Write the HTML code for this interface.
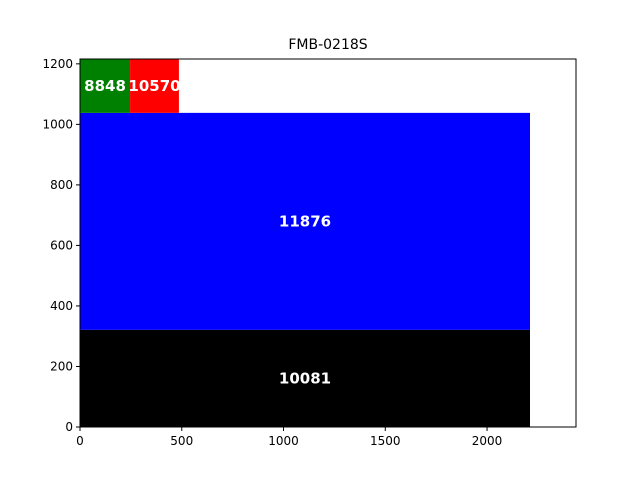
<!DOCTYPE html>
<html><head><meta charset="utf-8"><style>
body{margin:0;background:#fff;font-family:"Liberation Sans","DejaVu Sans",sans-serif;}
</style></head><body>
<svg id="chart" width="640" height="480" xmlns="http://www.w3.org/2000/svg">
<rect width="640" height="480" fill="#fff"/>
<text x="328" y="49" text-anchor="middle" font-size="14" font-family="DejaVu Sans, Liberation Sans, sans-serif">FMB-0218S</text>
<g id="marks"></g>
<g id="axes"></g>
</svg>
<script>
const labels = ["10081","11876","8848","10570"];
const x0s = [0,0,0,246];
const x1s = [2211,2211,246,486];
const y0s = [0,321,1038,1038];
const y1s = [321,1038,1216,1216];
const colors = ["#000000","#0000ff","#008000","#ff0000"];
const xTicks = [0,500,1000,1500,2000];
const yTicks = [0,200,400,600,800,1000,1200];
const L=80,R=576,T=59,B=427,XMAX=2437,YMAX=1216;
const sx=v=>L+v/XMAX*(R-L), sy=v=>B-v/YMAX*(B-T);
const NS="http://www.w3.org/2000/svg";
const marks=document.getElementById('marks'), axes=document.getElementById('axes');
function mk(tag,attrs,parent){const e=document.createElementNS(NS,tag);for(const k in attrs)e.setAttribute(k,attrs[k]);parent.appendChild(e);return e;}
labels.forEach((lb,i)=>{
  const r=mk('rect',{x:sx(x0s[i]),y:sy(y1s[i]),width:sx(x1s[i])-sx(x0s[i]),height:sy(y0s[i])-sy(y1s[i]),fill:colors[i]},marks);
  
  
  const t=mk('text',{x:(sx(x0s[i])+sx(x1s[i]))/2,y:(sy(y0s[i])+sy(y1s[i]))/2+5,'text-anchor':'middle','font-size':'15','font-weight':'bold',fill:'#fff','font-family':'DejaVu Sans, Liberation Sans, sans-serif'},marks);
  t.textContent=lb;
  
  
});
const frame=mk('rect',{x:L,y:T,width:R-L,height:B-T,fill:'none',stroke:'#000','stroke-width':1},axes);


xTicks.forEach(v=>{
  const x=sx(v);
  mk('line',{x1:x,x2:x,y1:B,y2:B+4,stroke:'#000'},axes);
  const t=mk('text',{x:x,y:B+18,'text-anchor':'middle','font-size':'12','font-family':'DejaVu Sans, Liberation Sans, sans-serif'},axes);
  t.textContent=v;
  
  
});
yTicks.forEach(v=>{
  const y=sy(v);
  mk('line',{x1:L-4,x2:L,y1:y,y2:y,stroke:'#000'},axes);
  const t=mk('text',{x:L-7,y:y+4,'text-anchor':'end','font-size':'12','font-family':'DejaVu Sans, Liberation Sans, sans-serif'},axes);
  t.textContent=v;
  
  
});
</script>
</body></html>
